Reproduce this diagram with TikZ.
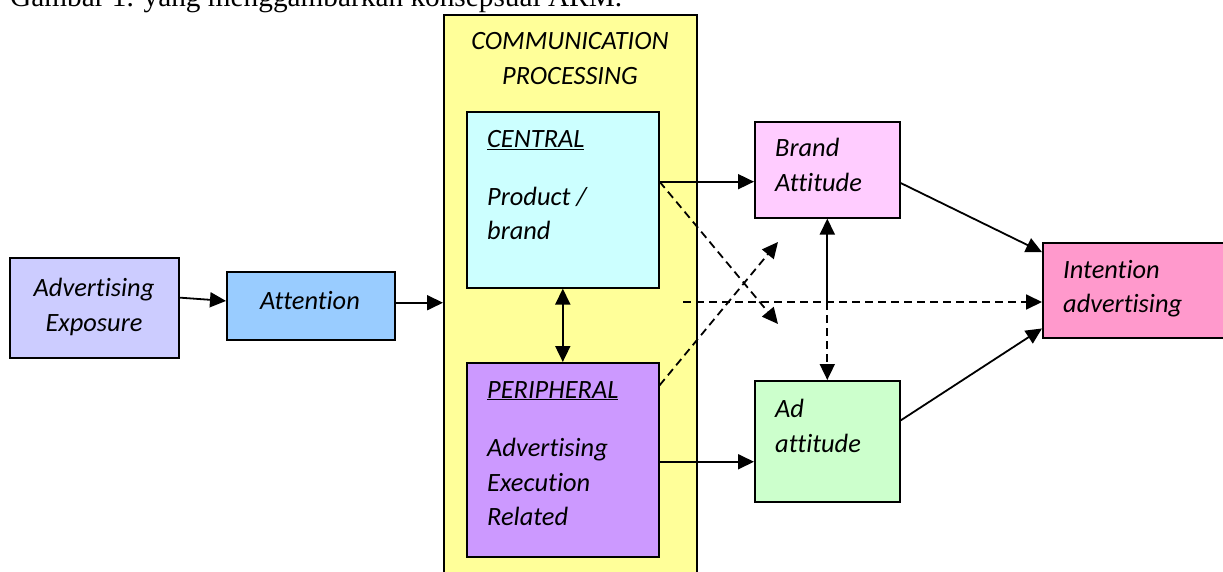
\documentclass[tikz,border=0pt]{standalone}
\usepackage{fontspec}
\setmainfont[Ligatures={NoCommon}]{Carlito}
\newfontfamily\captionserif{Liberation Serif}
\usetikzlibrary{arrows.meta,calc}

\definecolor{exposurefill}{HTML}{CCCCFF}
\definecolor{attentionfill}{HTML}{99CCFF}
\definecolor{processfill}{HTML}{FFFF99}
\definecolor{centralfill}{HTML}{CCFFFF}
\definecolor{peripheralfill}{HTML}{CC99FF}
\definecolor{brandfill}{HTML}{FFCCFF}
\definecolor{adfill}{HTML}{CCFFCC}
\definecolor{intentionfill}{HTML}{FF99CC}

\tikzset{
  box/.style={draw=black, line width=1.6pt, rectangle, inner sep=0pt, anchor=north west},
  lbl/.style={font=\fontsize{26.4}{32}\selectfont\itshape, anchor=base west, inner sep=0pt},
  lblc/.style={lbl, anchor=base},
  link/.style={line width=1.8pt, -{Triangle[length=16pt,width=15pt]}},
  dlink/.style={link, dash pattern=on 8pt off 5pt},
}

\begin{document}
\begin{tikzpicture}[x=1pt,y=-1pt]
  \clip (0,0) rectangle (1223,572);
  \fill[white] (0,0) rectangle (1223,572);

  % caption line above the figure
  \node[anchor=base west, inner sep=0pt, font=\fontsize{29.3}{34}\selectfont\captionserif]
    (caption) at (10,6.5) {Gambar 1. yang menggambarkan konsepsual ARM.};

  % boxes
  \node[box, fill=exposurefill, minimum width=169pt, minimum height=100pt] (exposure) at (9,257) {};
  \node[box, fill=attentionfill, minimum width=168pt, minimum height=68pt] (attention) at (226,271) {};
  \node[box, fill=processfill, line width=2pt, minimum width=253pt, minimum height=620pt] (process) at (443,14) {};
  \node[box, fill=centralfill, minimum width=192pt, minimum height=176pt] (central) at (466,111) {};
  \node[box, fill=peripheralfill, minimum width=192pt, minimum height=194pt] (peripheral) at (466,362) {};
  \node[box, fill=brandfill, minimum width=145pt, minimum height=96pt] (brand) at (754,121) {};
  \node[box, fill=adfill, minimum width=145pt, minimum height=121pt] (ad) at (754,380) {};
  \node[box, fill=intentionfill, minimum width=220pt, minimum height=95pt] (intention) at (1042,242) {};

  % labels
  \node[lblc] (exposure-l1) at (94,296) {Advertising};
  \node[lblc] (exposure-l2) at (94,331) {Exposure};
  \node[lblc] (attention-l1) at (310,309) {Attention};
  \node[lblc] (process-l1) at (570,50) {COMMUNICATION};
  \node[lblc] (process-l2) at (570,85) {PROCESSING};
  \node[lbl] (central-l1) at (487,148) {\underline{CENTRAL}};
  \node[lbl] (central-l2) at (487,205) {Product /};
  \node[lbl] (central-l3) at (487,239) {brand};
  \node[lbl] (peripheral-l1) at (487,398) {\underline{PERIPHERAL}};
  \node[lbl] (peripheral-l2) at (487,456) {Advertising};
  \node[lbl] (peripheral-l3) at (487,491) {Execution};
  \node[lbl] (peripheral-l4) at (487,525) {Related};
  \node[lbl] (brand-l1) at (775,157) {Brand};
  \node[lbl] (brand-l2) at (775,192) {Attitude};
  \node[lbl] (ad-l1) at (775,417) {Ad};
  \node[lbl] (ad-l2) at (775,452) {attitude};
  \node[lbl] (intention-l1) at (1063,278) {Intention};
  \node[lbl] (intention-l2) at (1063,312) {advertising};

  % connection points
  \coordinate (exposure-out) at ($(exposure.north east)!0.40!(exposure.south east)$);
  \coordinate (attention-in) at ($(attention.north west)!0.43!(attention.south west)$);
  \coordinate (attention-out) at ($(attention.north east)!0.456!(attention.south east)$);
  \coordinate (central-out) at ($(central.north east)!0.398!(central.south east)$);
  \coordinate (peripheral-out) at ($(peripheral.north east)!0.51!(peripheral.south east)$);
  \coordinate (peripheral-dash) at ($(peripheral.north east)!0.119!(peripheral.south east)$);
  \coordinate (cross-up) at (778,242);
  \coordinate (cross-down) at (778,324);
  \coordinate (direct) at (683,302);
  \coordinate (hub) at (brand.south |- direct);
  \coordinate (brand-out) at ($(brand.north east)!0.635!(brand.south east)$);
  \coordinate (ad-out) at ($(ad.north east)!0.33!(ad.south east)$);
  \coordinate (intention-in1) at ($(intention.north west)!0.105!(intention.south west)$);
  \coordinate (intention-in3) at ($(intention.north west)!0.895!(intention.south west)$);

  % connectors
  \draw[link] (exposure-out) -- (attention-in);
  \draw[link] (attention-out) -- (attention-out -| process.west);
  \draw[link] (central-out) -- (central-out -| brand.west);
  \draw[link] (peripheral-out) -- (peripheral-out -| ad.west);
  \draw[line width=1.8pt, {Triangle[length=16pt,width=15pt]}-{Triangle[length=16pt,width=15pt]}]
    (central.south) -- (peripheral.north);
  \draw[dlink] (central-out) -- (cross-down);
  \draw[dlink] (peripheral-dash) -- (cross-up);
  \draw[dlink] (direct) -- (direct -| intention.west);
  \draw[link] (hub) -- (brand.south);
  \draw[dlink] (hub) -- (ad.north);
  \draw[link] (brand-out) -- (intention-in1);
  \draw[link] (ad-out) -- (intention-in3);
\end{tikzpicture}
\end{document}
